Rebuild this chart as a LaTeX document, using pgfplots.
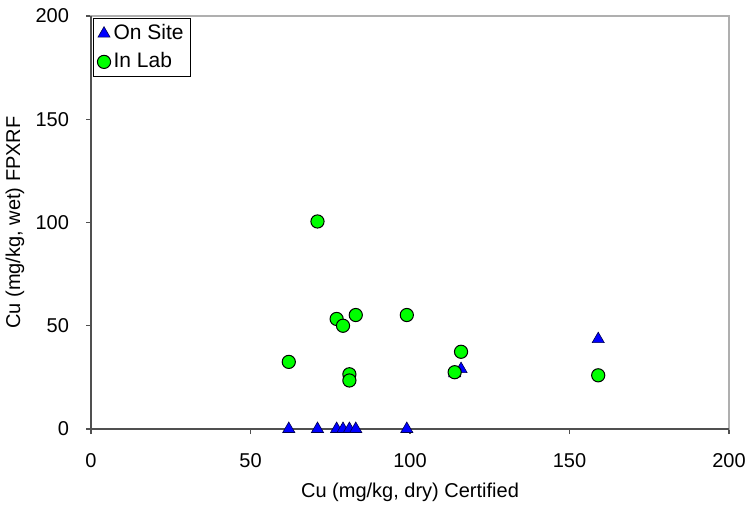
\documentclass[border=0pt]{standalone}
\usepackage{pgfplots}
\pgfplotsset{compat=1.18}
\usepackage{fontspec}
\setmainfont{Liberation Sans}
\definecolor{axdark}{RGB}{80,80,80}
\definecolor{axlight}{RGB}{175,175,175}
\begin{document}
\fontsize{10}{12}\selectfont
\begin{tikzpicture}
\useasboundingbox (-45.5pt,-39pt) rectangle (328pt,214.5pt);
\begin{axis}[
  at={(0,0)}, anchor=south west,
  scale only axis,
  width=319pt, height=206.5pt,
  xmin=0, xmax=200, ymin=0, ymax=200,
  xtick={0,50,...,200}, ytick={0,50,...,200},
  xtick pos=left, ytick pos=left, tick align=outside,
  major tick length=2.5pt,
  tick style={axdark, line width=0.6pt},
  axis line style={axlight, line width=0.8pt},
  /pgf/number format/assume math mode=true,
  ticklabel style={font=\fontsize{10}{12}\selectfont},
  xticklabel style={yshift=-6pt},
  yticklabel style={xshift=-5pt},
  xlabel={Cu (mg/kg, dry) Certified},
  ylabel={Cu (mg/kg, wet) FPXRF},
  xlabel style={at={(axis description cs:0.5,0)}, anchor=center, yshift=-31.5pt, font=\fontsize{10}{12}\selectfont},
  ylabel style={at={(axis description cs:0,0.5)}, anchor=center, yshift=38pt, font=\fontsize{10}{12}\selectfont},
  clip=false,
  legend style={at={(axis description cs:0.003,0.995)}, anchor=north west, draw=black, line width=0.5pt, fill=white, font=\fontsize{10.5}{12}\selectfont, inner xsep=2pt, inner ysep=1pt, row sep=1pt, legend cell align=left, nodes={inner xsep=1.5pt}},
  legend image code/.code={\draw[#1] plot coordinates {(0.15cm,0cm)};},
]
\addplot[only marks, mark=triangle*, mark size=3.5pt, mark options={fill=blue, draw=black!70!blue, line width=0.3pt}] coordinates {
(62,0) (71,0) (77,0) (79,0) (81,0) (83,0) (99,0) (114,27) (116,29) (159,43.5)
};
\addlegendentry{On Site}
\addplot[only marks, mark=*, mark size=3.3pt, mark options={fill=green, draw=black, line width=0.5pt}] coordinates {
(62,32.5) (71,100.5) (77,53.3) (79,50) (83,55.2) (81,26.5) (81,23.5) (99,55.2) (114,27.5) (116,37.4) (159,26)
};
\addlegendentry{In Lab}
\draw[axdark, line width=0.8pt] (rel axis cs:0,1) -- (rel axis cs:0,0) -- (rel axis cs:1,0);
\end{axis}
\end{tikzpicture}
\end{document}
